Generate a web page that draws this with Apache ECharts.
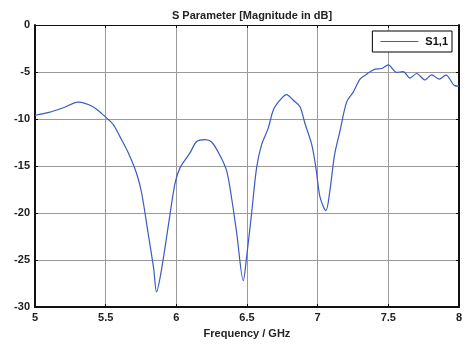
<!DOCTYPE html>
<html>
<head>
<meta charset="utf-8">
<script src="https://cdn.jsdelivr.net/npm/echarts@6/dist/echarts.min.js"></script>
<style>
  html, body { margin: 0; padding: 0; background: #fff; }
  #chart { width: 465px; height: 344px; }
</style>
</head>
<body>
<div id="chart"></div>
<script>
  // frequency (GHz) and S1,1 (dB)
  var freq = [5.00, 5.10, 5.20, 5.306, 5.41, 5.50, 5.554, 5.60, 5.66, 5.72, 5.755, 5.80, 5.84, 5.86,
    5.896, 5.943, 5.99, 6.026, 6.097, 6.144, 6.203, 6.25, 6.31, 6.356, 6.39, 6.427, 6.474,
    6.498, 6.533, 6.568, 6.604, 6.65, 6.686, 6.733, 6.78, 6.828, 6.875, 6.91, 6.958, 6.988,
    7.017, 7.059, 7.087, 7.12, 7.158, 7.205, 7.252, 7.30, 7.347, 7.406, 7.453, 7.50, 7.559,
    7.606, 7.653, 7.70, 7.76, 7.807, 7.86, 7.908, 7.97, 8.00];
  var s11 = [-9.6, -9.3, -8.8, -8.2, -8.7, -9.8, -10.6, -11.85, -13.6, -15.85, -17.9, -22.1, -25.95, -28.4,
    -25.95, -21.4, -16.9, -15.2, -13.6, -12.4, -12.2, -12.45, -13.9, -15.5, -18.3, -22.1, -27.2,
    -24.6, -20.0, -15.2, -12.7, -11.0, -9.06, -8.0, -7.4, -8.0, -8.7, -10.45, -12.7, -15.2,
    -18.3, -19.75, -17.6, -13.8, -11.3, -8.2, -7.14, -5.75, -5.23, -4.7, -4.63, -4.25, -5.05,
    -4.95, -5.65, -5.16, -5.85, -5.3, -5.75, -5.33, -6.45, -6.5];
  var seriesName = 'S1,1';

  var points = freq.map(function (f, i) { return [f, s11[i]]; });

  var font = 'Liberation Sans, Arial, sans-serif';
  var gridLine = { show: true, lineStyle: { color: '#9a9a9a', width: 1 } };

  var myChart = echarts.init(document.getElementById('chart'));
  var option = {
    animation: false,
    title: {
      text: 'S Parameter [Magnitude in dB]',
      left: 247, top: 5, textAlign: 'center',
      textStyle: { fontFamily: font, fontSize: 11, fontWeight: 'bold', color: '#222' }
    },
    legend: {
      data: [seriesName],
      right: 13, top: 31,
      orient: 'vertical',
      backgroundColor: '#fff',
      borderColor: '#000', borderWidth: 1, borderRadius: 0,
      padding: [5, 4, 5, 8],
      icon: 'rect', itemWidth: 38, itemHeight: 1, itemGap: 0,
      textStyle: { fontFamily: font, fontSize: 11, fontWeight: 'bold', color: '#111', padding: [0, 0, 0, 2] }
    },
    grid: { left: 35, right: 6, top: 25, bottom: 32 },
    xAxis: [{
      type: 'value', min: 5, max: 8, interval: 0.5,
      name: 'Frequency / GHz', nameLocation: 'middle', nameGap: 21,
      nameTextStyle: { fontFamily: font, fontSize: 11, fontWeight: 'bold', color: '#222' },
      axisLine: { show: true, onZero: false, lineStyle: { color: '#111', width: 2 } },
      axisTick: { show: true, inside: true, length: 3, lineStyle: { color: '#111' } },
      axisLabel: { fontFamily: font, fontSize: 11, fontWeight: 'bold', color: '#222', margin: 5 },
      splitLine: gridLine
    }, {
      type: 'value', min: 5, max: 8, interval: 0.5, position: 'top',
      axisLine: { show: true, lineStyle: { color: '#111', width: 1 } },
      axisTick: { show: true, inside: true, length: 3, lineStyle: { color: '#111' } },
      axisLabel: { show: false }, splitLine: { show: false }
    }],
    yAxis: [{
      type: 'value', min: -30, max: 0, interval: 5,
      axisLine: { show: true, onZero: false, lineStyle: { color: '#111', width: 2 } },
      axisTick: { show: true, inside: true, length: 3, lineStyle: { color: '#111' } },
      axisLabel: { fontFamily: font, fontSize: 11, fontWeight: 'bold', color: '#222', margin: 5 },
      splitLine: gridLine
    }, {
      type: 'value', min: -30, max: 0, interval: 5, position: 'right',
      axisLine: { show: true, lineStyle: { color: '#111', width: 2 } },
      axisTick: { show: true, inside: true, length: 3, lineStyle: { color: '#111' } },
      axisLabel: { show: false }, splitLine: { show: false }
    }],
    series: [{
      name: seriesName,
      type: 'line',
      data: points,
      smooth: 0.3,
      symbol: 'none',
      itemStyle: { color: '#3a5bbf' },
      lineStyle: { color: '#3a5bbf', width: 1.2 }
    }]
  };
  myChart.setOption(option);
</script>
</body>
</html>
